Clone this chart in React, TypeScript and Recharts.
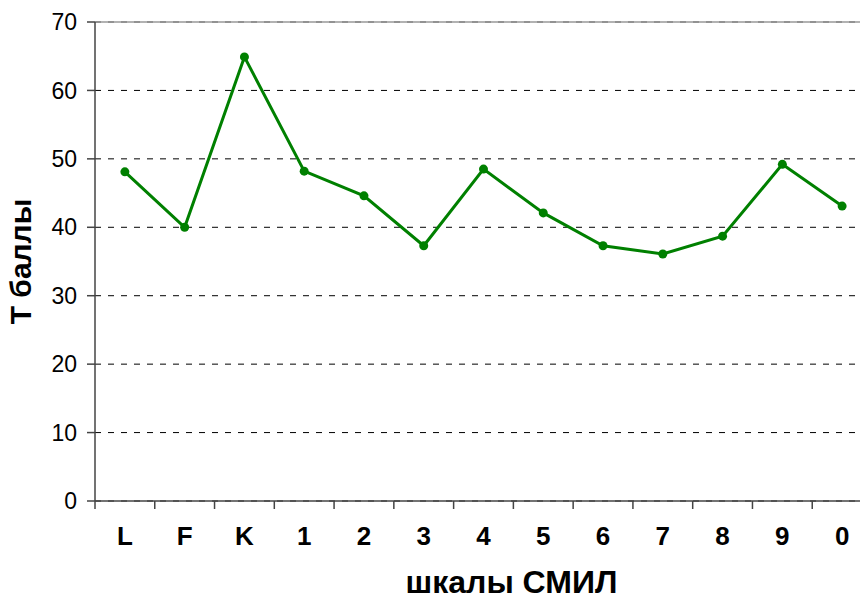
import React from "react";
import { LineChart, Line, XAxis, YAxis, CartesianGrid, ReferenceLine, Label } from "recharts";

const categories = ["L", "F", "K", "1", "2", "3", "4", "5", "6", "7", "8", "9", "0"];
const tScores = [48.1, 40.0, 64.9, 48.2, 44.6, 37.3, 48.5, 42.1, 37.3, 36.1, 38.7, 49.2, 43.1];
const yTicks = [0, 10, 20, 30, 40, 50, 60, 70];

const data = categories.map((c, i) => ({ name: c, pos: i + 0.5, value: tScores[i] }));
const labelTicks = categories.map((_, i) => i + 0.5);
const frameTicks = categories.map((_, i) => i).concat([categories.length]);

const FONT = "'Liberation Sans', Arial, sans-serif";

const FrameTick = (props: any) => {
  const { x, y } = props;
  return <line x1={x} x2={x} y1={y - 8} y2={y} stroke="#444" strokeWidth={1.5} />;
};

export default function App() {
  return (
    <div style={{ position: "absolute", left: 0, top: 0, width: 860, height: 600, overflow: "hidden", background: "#fff" }}>
      <LineChart width={880} height={600} data={data} margin={{ top: 22, right: 8, bottom: 40, left: 0 }}>
        <CartesianGrid horizontal vertical={false} stroke="#000" strokeDasharray="6 7" />
        <ReferenceLine y={70} stroke="#999" strokeWidth={1.5} />
        <XAxis
          xAxisId="frame"
          dataKey="pos"
          type="number"
          domain={[0, categories.length]}
          ticks={frameTicks}
          tick={<FrameTick />}
          tickLine={false}
          tickSize={8}
          tickMargin={0}
          height={1}
          stroke="#444"
          strokeWidth={1.5}
          interval={0}
          allowDataOverflow
        />
        <XAxis
          xAxisId="lbl"
          dataKey="pos"
          type="number"
          domain={[0, categories.length]}
          ticks={labelTicks}
          tickFormatter={(v: number) => categories[Math.round(v - 0.5)]}
          tickLine={false}
          axisLine={false}
          tickMargin={19}
          height={58}
          tick={{ fill: "#000", fontSize: 26, fontWeight: "bold", fontFamily: FONT }}
          interval={0}
        >
          <Label value="шкалы СМИЛ" position="insideBottom" offset={-33} dx={28} style={{ fill: "#000", fontSize: 32, fontWeight: "bold", fontFamily: FONT }} />
        </XAxis>
        <YAxis
          domain={[0, 70]}
          ticks={yTicks}
          width={95}
          tickSize={8}
          tickMargin={10}
          stroke="#444"
          strokeWidth={1.5}
          tick={{ fill: "#000", fontSize: 23, fontFamily: FONT }}
          interval={0}
        >
          <Label value="Т баллы" angle={-90} position="insideLeft" offset={20} style={{ textAnchor: "middle", fill: "#000", fontSize: 30, fontWeight: "bold", fontFamily: FONT }} />
        </YAxis>
        <Line
          xAxisId="lbl"
          dataKey="value"
          type="linear"
          stroke="#008000"
          strokeWidth={3}
          dot={{ r: 4.5, fill: "#008000", stroke: "#008000", strokeWidth: 0 }}
          activeDot={false}
          isAnimationActive={false}
        />
      </LineChart>
    </div>
  );
}
